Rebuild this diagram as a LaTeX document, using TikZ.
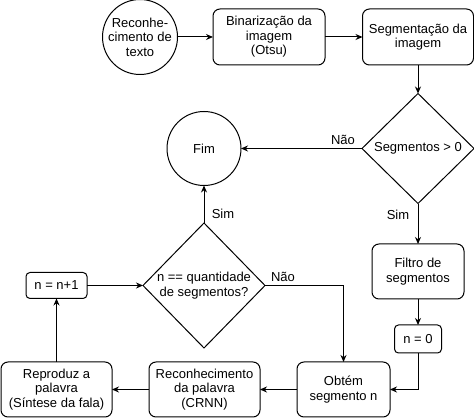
\documentclass[tikz,border=0pt]{standalone}
\usepackage{fontspec}
\setmainfont{Liberation Sans}
\usetikzlibrary{shapes.geometric,arrows.meta}
\tikzset{
  base/.style={draw, line width=1pt, align=center, inner sep=0pt, outer sep=0pt, font=\fontsize{13}{14.5}\selectfont},
  box/.style={base, rectangle, rounded corners=7pt},
  sbox/.style={base, rectangle, rounded corners=4pt},
  circ/.style={base, circle},
  dec/.style={base, diamond, inner sep=-4pt},
  arr/.style={-{Stealth[length=7pt,width=6pt]}, line width=1pt},
  lbl/.style={font=\fontsize{13}{14.5}\selectfont, inner sep=0pt}
}
\begin{document}
\begin{tikzpicture}[x=1pt,y=-1pt]
\useasboundingbox (0,0) rectangle (474,419);
\node[circ, minimum size=75pt] (start) at (140,37) {Reconhe-\\cimento de\\texto};
\node[box, minimum width=112pt, minimum height=56pt] (bin) at (269,37) {Binarização da\\imagem\\(Otsu)};
\node[box, minimum width=111pt, minimum height=56pt] (seg) at (418,37) {Segmentação da\\imagem};
\node[dec, minimum width=112pt, minimum height=110pt] (d1) at (418,148.5) {Segmentos > 0};
\node[circ, minimum size=74pt] (fim) at (204,148.5) {Fim};
\node[dec, minimum width=122pt, minimum height=125pt] (d2) at (204,285.5) {n == quantidade\\de segmentos?};
\node[box, minimum width=92pt, minimum height=55pt] (filtro) at (418,271.5) {Filtro de\\segmentos};
\node[sbox, minimum width=47pt, minimum height=28pt] (n0) at (418,339) {n = 0};
\node[box, minimum width=93pt, minimum height=55pt] (obtem) at (343.5,389.5) {Obtém\\segmento n};
\node[box, minimum width=111pt, minimum height=55pt] (recon) at (204.5,389.5) {Reconhecimento\\da palavra\\(CRNN)};
\node[box, minimum width=111pt, minimum height=55pt] (repr) at (56.5,389.5) {Reproduz a\\palavra\\(Síntese da fala)};
\node[sbox, minimum width=61pt, minimum height=26pt] (nn1) at (56.5,285.5) {n = n+1};

\draw[arr] (start) -- (bin);
\draw[arr] (bin) -- (seg);
\draw[arr] (seg) -- (d1);
\draw[arr] (d1) -- (fim);
\draw[arr] (d1) -- (filtro);
\draw[arr] (filtro) -- (n0);
\draw[arr] (n0.south) |- (obtem.east);
\draw[arr] (obtem) -- (recon);
\draw[arr] (recon) -- (repr);
\draw[arr] (repr) -- (nn1);
\draw[arr] (nn1) -- (d2);
\draw[arr] (d2) -- (fim);
\draw[arr] (d2.east) -| (obtem.north);

\node[lbl] (l1) at (343,140) {Não};
\node[lbl] (l2) at (398,215) {Sim};
\node[lbl] (l3) at (223,214) {Sim};
\node[lbl] (l4) at (283,277) {Não};
\end{tikzpicture}
\end{document}
